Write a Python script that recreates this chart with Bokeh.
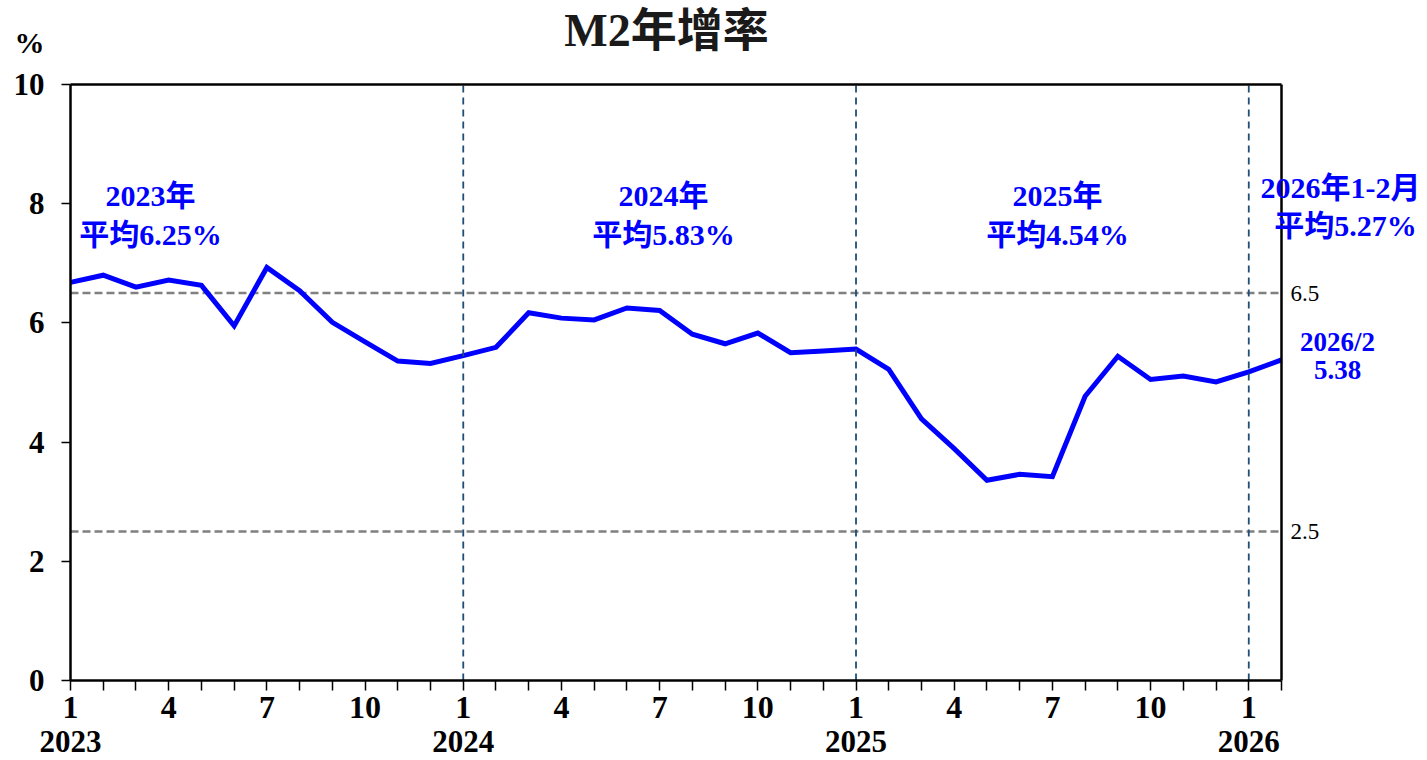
from bokeh.plotting import figure
from bokeh.models import Range1d, FixedTicker, Label, LinearAxis
from bokeh.embed import file_html
from bokeh.resources import INLINE

# ---- data ----
months = [f"{y}/{m}" for y in (2023, 2024, 2025) for m in range(1, 13)] + ["2026/1", "2026/2"]
month_index = list(range(len(months)))
m2_growth = [6.68, 6.80, 6.60, 6.72, 6.63, 5.95, 6.93, 6.54, 6.01, 5.68, 5.36, 5.32,
             5.45, 5.59, 6.17, 6.08, 6.05, 6.25, 6.21, 5.81, 5.65, 5.83, 5.50, 5.53,
             5.56, 5.22, 4.39, 3.89, 3.36, 3.46, 3.42, 4.77, 5.44, 5.05, 5.11, 5.01,
             5.18, 5.38]
month_tick_labels = ["1", "4", "7", "10"]
years = ["2023", "2024", "2025", "2026"]
year_index = [0, 12, 24, 36]
y_ticks = [0, 2, 4, 6, 8, 10]
ref_levels = [6.5, 2.5]
avg_titles = ["2023年", "2024年", "2025年", "2026年1-2月"]
avg_texts = ["平均6.25%", "平均5.83%", "平均4.54%", "平均5.27%"]
latest_label = "2026/2"
latest_value = "5.38"
chart_title = "M2年增率"
unit_label = "%"

# ---- layout constants (pixels) ----
W, H = 1427, 760
FL, FR, FT, FB = 70, 1281, 84, 680
Y0, Y1 = y_ticks[0], y_ticks[-1]
X0, X1 = month_index[0], month_index[-1]
px_x = (FR - FL) / (X1 - X0)
px_y = (FB - FT) / (Y1 - Y0)


def dx(px):
    return X0 + (px - FL) / px_x


def dy(py):
    return Y0 + (FB - py) / px_y


SERIF = "Liberation Serif, Noto Sans CJK TC"
BLUE = "#0000ff"

p = figure(width=W, height=H, output_backend="svg", toolbar_location=None,
           x_range=Range1d(dx(0), dx(W)), y_range=Range1d(dy(H), dy(0)),
           min_border=0, min_border_left=0, min_border_right=0,
           min_border_top=0, min_border_bottom=0)
p.title.visible = False
p.grid.visible = False
p.outline_line_color = None
p.background_fill_color = "white"
p.border_fill_color = "white"

# bottom axis (months)
xa = p.xaxis[0]
xa.fixed_location = Y0
xa.bounds = (X0, X1)
xa.ticker = FixedTicker(ticks=month_index)
xa.major_label_overrides = {
    i: (months[i].split("/")[1] if months[i].split("/")[1] in month_tick_labels else "")
    for i in month_index
}
xa.minor_tick_line_color = None
xa.major_tick_in = 0
xa.major_tick_out = 10
xa.major_tick_line_color = "black"
xa.major_tick_line_width = 1.5
xa.axis_line_width = 2.5
xa.axis_line_color = "black"
xa.major_label_text_font = SERIF
xa.major_label_text_font_style = "bold"
xa.major_label_text_font_size = "32px"
xa.major_label_text_color = "black"
xa.major_label_standoff = 6

# left axis
ya = p.yaxis[0]
ya.fixed_location = X0
ya.bounds = (Y0, Y1)
ya.ticker = FixedTicker(ticks=y_ticks)
ya.minor_tick_line_color = None
ya.major_tick_in = 0
ya.major_tick_out = 9
ya.major_tick_line_color = "black"
ya.major_tick_line_width = 1.5
ya.axis_line_width = 2.5
ya.axis_line_color = "black"
ya.major_label_text_font = SERIF
ya.major_label_text_font_style = "bold"
ya.major_label_text_font_size = "31px"
ya.major_label_text_color = "black"
ya.major_label_standoff = 17

# right axis (reference level labels)
ra = LinearAxis(fixed_location=X1, bounds=(Y0, Y1), ticker=FixedTicker(ticks=ref_levels),
                major_tick_line_color=None, minor_tick_line_color=None,
                major_tick_in=0, major_tick_out=0,
                axis_line_color="black", axis_line_width=2.5,
                major_label_text_font=SERIF, major_label_text_font_size="23px",
                major_label_text_color="black", major_label_standoff=9)
p.add_layout(ra, "right")

# top axis (frame top edge)
ta = LinearAxis(fixed_location=Y1, bounds=(X0, X1), ticker=FixedTicker(ticks=[]),
                major_tick_line_color=None, minor_tick_line_color=None,
                major_label_text_font_size="0px",
                axis_line_color="black", axis_line_width=2.5)
p.add_layout(ta, "above")

# reference lines
p.segment(x0=[X0] * len(ref_levels), y0=ref_levels, x1=[X1] * len(ref_levels), y1=ref_levels,
          line_color="#808080", line_width=2.5, line_dash="8 4")

# main line
p.line(month_index, m2_growth, line_color=BLUE, line_width=5, line_join="miter")

# year separators
sep = year_index[1:]
p.segment(x0=sep, y0=[Y0] * len(sep), x1=sep, y1=[Y1] * len(sep),
          line_color="#1f4e79", line_width=1.8, line_dash="7 5")

# year labels under the axis
for yi, yr in zip(year_index, years):
    p.add_layout(Label(x=yi, y=dy(741), text=yr, text_font=SERIF, text_font_style="bold",
                       text_font_size="31px", text_color="black",
                       text_align="center", text_baseline="middle"))

# title and unit
p.add_layout(Label(x=dx(666), y=dy(30), text=chart_title, text_font=SERIF,
                   text_font_style="bold", text_font_size="46px", text_color="#1a1a1a",
                   text_align="center", text_baseline="middle"))
p.add_layout(Label(x=dx(29), y=dy(42), text=unit_label, text_font=SERIF,
                   text_font_style="bold", text_font_size="30px", text_color="black",
                   text_align="center", text_baseline="middle"))

# yearly average annotations
ann_x1 = [150, 663, 1057, 1340]
ann_x2 = [150, 663, 1057, 1345]
ann_y1 = [195, 195, 195, 187]
ann_y2 = [234, 234, 234, 225]
for i in range(len(avg_titles)):
    p.add_layout(Label(x=dx(ann_x1[i]), y=dy(ann_y1[i]), text=avg_titles[i], text_font=SERIF,
                       text_font_style="bold", text_font_size="30px", text_color=BLUE,
                       text_align="center", text_baseline="middle"))
    p.add_layout(Label(x=dx(ann_x2[i]), y=dy(ann_y2[i]), text=avg_texts[i], text_font=SERIF,
                       text_font_style="bold", text_font_size="30px", text_color=BLUE,
                       text_align="center", text_baseline="middle"))

p.add_layout(Label(x=dx(1337), y=dy(341), text=latest_label, text_font=SERIF,
                   text_font_style="bold", text_font_size="27px", text_color=BLUE,
                   text_align="center", text_baseline="middle"))
p.add_layout(Label(x=dx(1337), y=dy(369), text=latest_value, text_font=SERIF,
                   text_font_style="bold", text_font_size="27px", text_color=BLUE,
                   text_align="center", text_baseline="middle"))

open("out.html", "w").write(file_html(p, INLINE))
